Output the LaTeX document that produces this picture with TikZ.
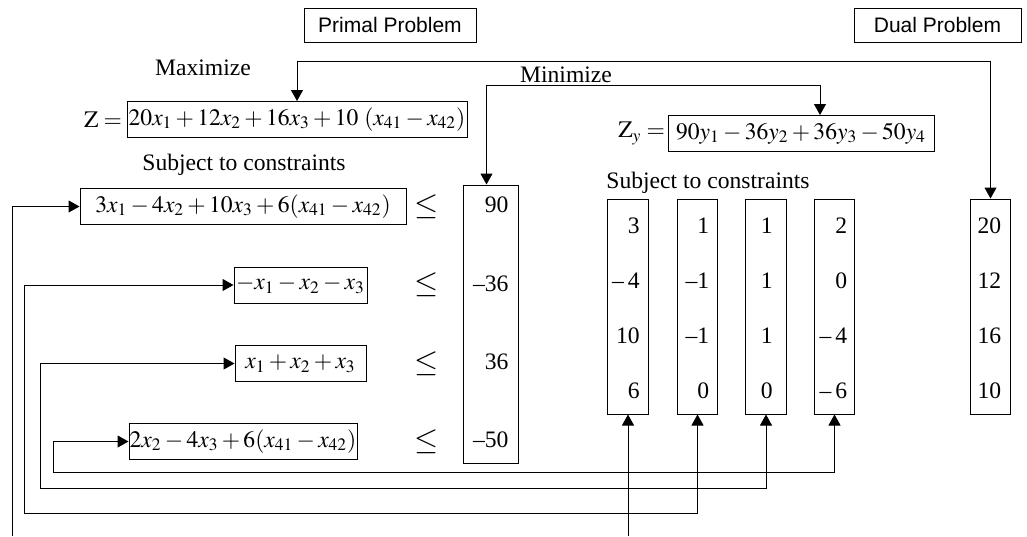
\documentclass[tikz,border=0pt]{standalone}
\usepackage{mathptmx}
\usepackage{fontspec}
\setmainfont{Liberation Serif}
\setsansfont{Liberation Sans}
\usetikzlibrary{arrows.meta,positioning}
\tikzset{
  lp/.style={x=0.5pt, y=-0.5pt, >={Triangle[length=5.5pt,width=6pt]}, line width=0.5pt,
             every node/.style={font=\fontsize{11.8}{14}\selectfont, inner sep=0pt}},
  hbox/.style={draw, minimum height=18pt, execute at begin node={\medmuskip=2.5mu\thickmuskip=4mu}},
  title/.style={draw, font=\sffamily\fontsize{10.5}{12}\selectfont, minimum width=86pt, minimum height=17pt},
  col/.style={draw, minimum width=20.25pt, minimum height=107.5pt},
  rel/.style={font=\fontsize{15.5}{18}\selectfont},
  link/.style={<->}
}

\begin{document}
\begin{tikzpicture}[lp]
\useasboundingbox (0,0) rectangle (1027,536);
\node[title] (primal) at (390,25) {Primal Problem};
\node[title, minimum width=83.5pt] (dual) at (937.5,25) {Dual Problem};
% objectives
\node (maxlbl) at (203,68) {Maximize};
\node[hbox, minimum width=170pt] (zobj) at (297,119.5) {$20x_1 + 12x_2 + 16x_3 + 10\ (x_{41} - x_{42})$};
\node[left=2pt of zobj] (zlhs) {$\mathrm{Z} =$};
\node (minlbl) at (566,75) {Minimize};
\node[hbox, minimum width=133pt] (zyobj) at (801,133.5) {$90y_1 - 36y_2 + 36y_3 - 50y_4$};
\node[left=1pt of zyobj] (zylhs) {$\mathrm{Z}_y =$};
\node (subjp) at (244,165) {Subject to constraints};
\node (subjd) at (708,183) {Subject to constraints};
% primal constraints
\node[hbox, minimum width=163pt] (c1) at (243,206.5) {$3x_1 - 4x_2 + 10x_3 + 6(x_{41} - x_{42})$};
\node[hbox, minimum width=66.5pt] (c2) at (300.5,285) {$-x_1 - x_2 - x_3$};
\node[hbox, minimum width=65.5pt] (c3) at (300.5,363.5) {$x_1 + x_2 + x_3$};
\node[hbox, minimum width=114pt] (c4) at (243,441.5) {$2x_2 - 4x_3 + 6(x_{41} - x_{42})$};
\foreach \c in {1,...,4} \node[rel] (le\c) at (427,0 |- c\c) {$\leq$};
\node[draw, minimum width=27.5pt, minimum height=139pt] (rhs) at (490.5,324) {};
\foreach \v/\y [count=\i] in {90/205, \textendash36/284, 36/362, \textendash50/440}
  \node[anchor=east] (r\i) at (509,\y) {\v};
% dual columns
\foreach \n/\x/\pad/\vals in {colA/628/8/{3,\textendash\,4,10,6}, colB/697.5/8/{1,\textendash1,\textendash1,0},
    colC/766/13/{1,1,1,0}, colD/834.5/7/{2,0,\textendash\,4,\textendash\,6}, colE/990.5/9/{20,12,16,10}} {
  \node[col] (\n) at (\x,306.5) {};
  \foreach \v [count=\i] in \vals
    \node[anchor=east] (\n-\i) at ({\x+20.25-\pad},{170+55.3*\i}) {\v};
}
% links
\draw[link] (zobj.north) -- ++(0,-40) -| (colE.north);
\draw[link] ([xshift=-2pt]rhs.north) -- ++(0,-99) -| ([xshift=9.5pt]zyobj.north);
\coordinate (c1foot) at (12,536);
\draw[->] (c1foot) |- (c1.west);
\draw[->] (colA.south |- c1foot) -- (colA.south);
\draw[link] (c2.west) -| ++(-209,228) -| (colB.south);
\draw[link] (c3.west) -| ++(-194,124.5) -| (colC.south);
\draw[link] (c4.west) -| ++(-75,30.5) -| (colD.south);
\end{tikzpicture}
\end{document}
